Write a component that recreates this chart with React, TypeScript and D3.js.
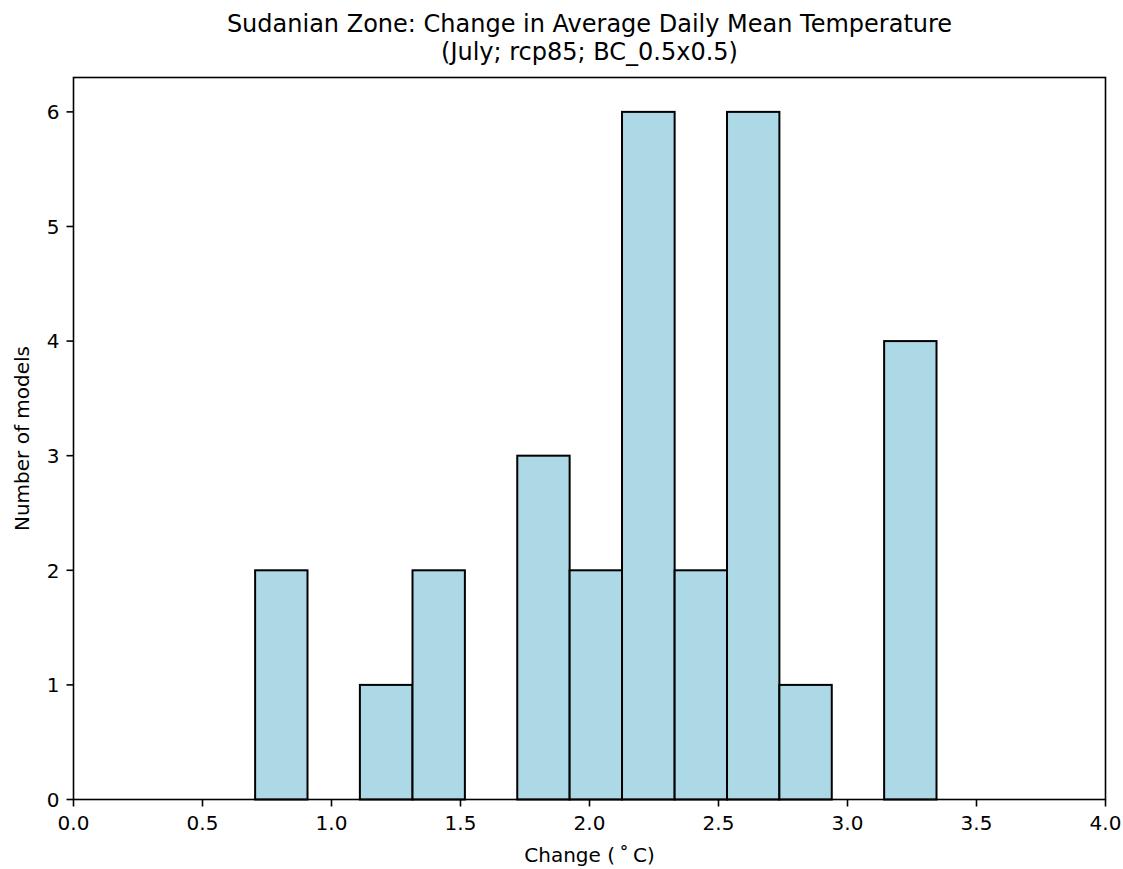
import React from "react";
import * as d3 from "d3";

const binEdges = [0.704, 0.907, 1.110, 1.314, 1.517, 1.720, 1.923, 2.126, 2.330, 2.533, 2.736, 2.939, 3.142, 3.345];
const counts = [2, 0, 1, 2, 0, 3, 2, 6, 2, 6, 1, 0, 4];
const xTicks = [0, 0.5, 1.0, 1.5, 2.0, 2.5, 3.0, 3.5, 4.0];
const yTicks = [0, 1, 2, 3, 4, 5, 6];
const titleLines = ["Sudanian Zone: Change in Average Daily Mean Temperature", "(July; rcp85; BC_0.5x0.5)"];
const xLabel = "Change (\u2009\u02da\u2009C)";
const yLabel = "Number of models";

const W = 1123, H = 869;
const L = 73.5, R = 1105.5, T = 77.5, B = 799.5;
const FONT = "DejaVu Sans, sans-serif";

export default function App() {
  const x = d3.scaleLinear().domain([0, 4]).range([L, R]);
  const y = d3.scaleLinear().domain([0, 6.3]).range([B, T]);
  const bins = counts.map((c, i) => ({ x0: binEdges[i], x1: binEdges[i + 1], c }));
  return (
    <svg width={W} height={H} style={{ position: "absolute", left: 0, top: 0, background: "#fff" }} fontFamily={FONT}>
      <rect x={0} y={0} width={W} height={H} fill="#fff" />
      {bins.filter(b => b.c > 0).map((b, i) => (
        <rect key={i} x={x(b.x0)} y={y(b.c)} width={x(b.x1) - x(b.x0)} height={y(0) - y(b.c)}
          fill="#add8e6" stroke="#000" strokeWidth={2} />
      ))}
      <rect x={L} y={T} width={R - L} height={B - T} fill="none" stroke="#000" strokeWidth={1.6} />
      {xTicks.map(t => (
        <g key={t}>
          <line x1={x(t)} x2={x(t)} y1={B} y2={B + 7} stroke="#000" strokeWidth={1.6} />
          <text x={x(t)} y={B + 30} fontSize={20} textAnchor="middle" fill="#000">{t.toFixed(1)}</text>
        </g>
      ))}
      {yTicks.map(t => (
        <g key={t}>
          <line x1={L - 7} x2={L} y1={y(t)} y2={y(t)} stroke="#000" strokeWidth={1.6} />
          <text x={L - 14} y={y(t) + 7.3} fontSize={20} textAnchor="end" fill="#000">{t}</text>
        </g>
      ))}
      <text x={(L + R) / 2} y={862} fontSize={20} textAnchor="middle" fill="#000">{xLabel}</text>
      <text transform={`translate(29,${(T + B) / 2}) rotate(-90)`} fontSize={20} textAnchor="middle" fill="#000">{yLabel}</text>
      {titleLines.map((l, i) => (
        <text key={i} x={(L + R) / 2} y={32 + i * 27.5} fontSize={24} textAnchor="middle" fill="#000">{l}</text>
      ))}
    </svg>
  );
}
